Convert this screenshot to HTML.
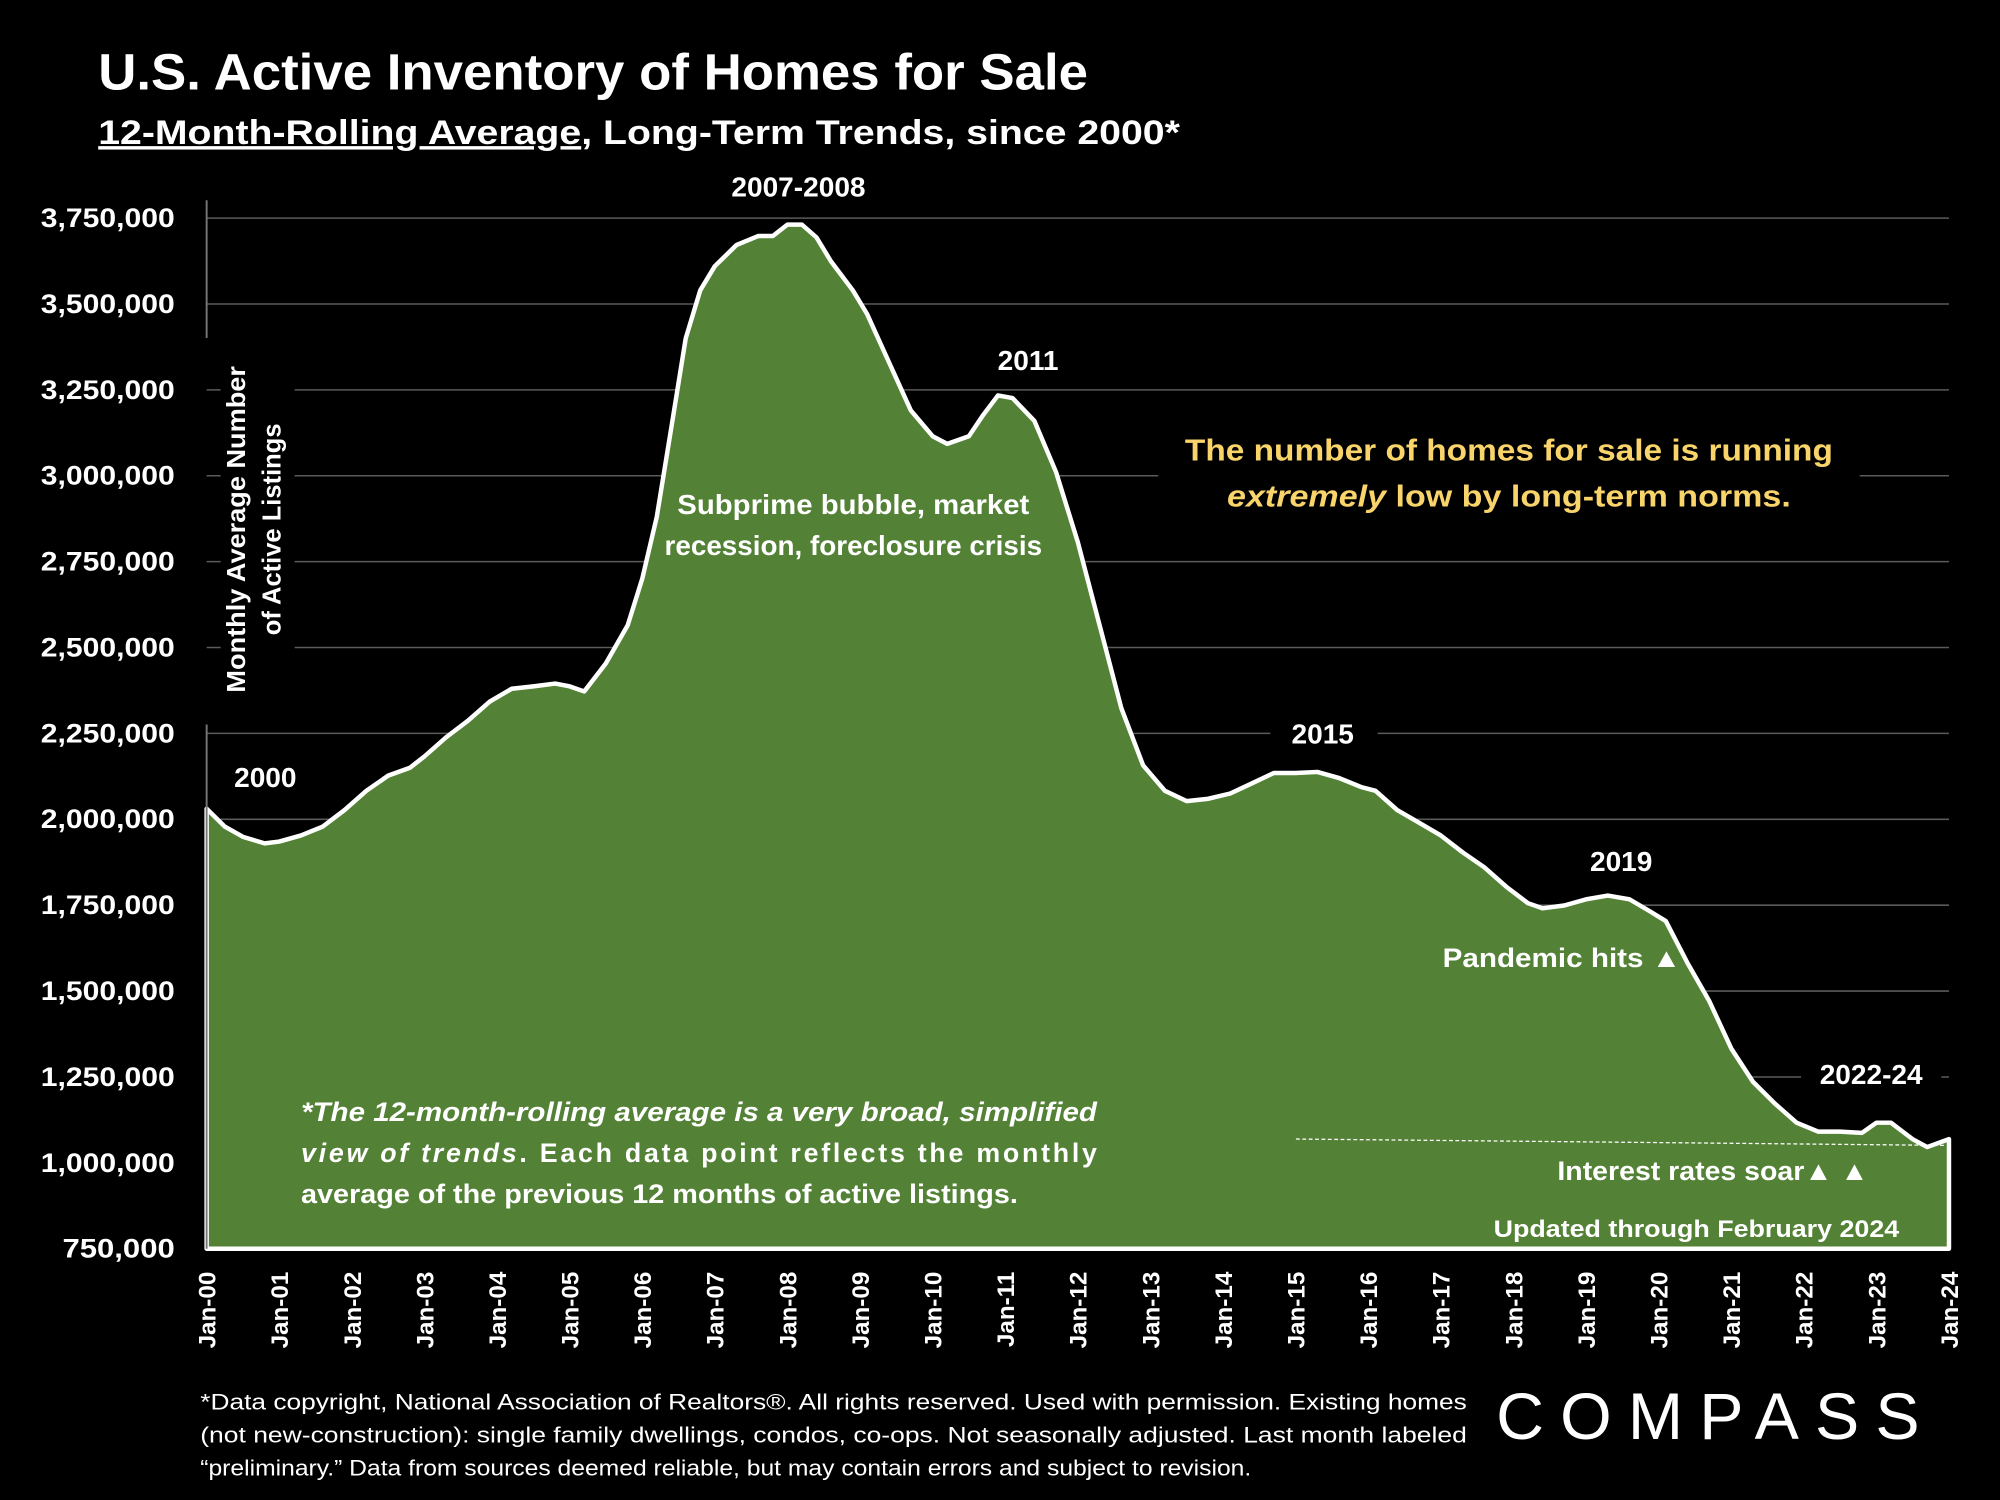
<!DOCTYPE html>
<html><head><meta charset="utf-8"><style>
html,body{margin:0;padding:0;background:#000;}
svg{display:block;}
text{font-family:"Liberation Sans",sans-serif;fill:#fff;font-weight:bold;}
</style></head><body>
<svg id="chart" width="2000" height="1500" viewBox="0 0 1568 1176" xmlns="http://www.w3.org/2000/svg">
<rect width="1568" height="1176" fill="#000"/>
<text x="77" y="70" font-size="40" textLength="776" lengthAdjust="spacingAndGlyphs">U.S. Active Inventory of Homes for Sale</text>
<text x="77" y="113" font-size="27" textLength="848" lengthAdjust="spacingAndGlyphs"><tspan text-decoration="underline">12-Month-Rolling Average</tspan>, Long-Term Trends, since 2000*</text>
<g id="grid"></g>
<g id="yticks"></g>
<g id="area"></g>
<line x1="162" y1="157" x2="162" y2="265" stroke="#777" stroke-width="1.5"/>
<line x1="162" y1="568" x2="162" y2="979" stroke="#777" stroke-width="1.5"/>
<g id="xticks"></g>
<line x1="1016" y1="893" x2="1526" y2="898" stroke="#fff" stroke-width="1" stroke-dasharray="3,2"/>
<g transform="translate(199,415) rotate(-90)">
<rect x="-135" y="-26" width="270" height="58" fill="#000"/>
<text x="0" y="-7" font-size="20" text-anchor="middle" textLength="256" lengthAdjust="spacingAndGlyphs">Monthly Average Number</text>
<text x="0" y="21" font-size="20" text-anchor="middle" textLength="166" lengthAdjust="spacingAndGlyphs">of Active  Listings</text>
</g>
<g>
<rect x="560" y="130" width="132" height="26" fill="#000"/>
<text x="626" y="154" font-size="22" text-anchor="middle">2007-2008</text>
<rect x="772" y="268" width="68" height="26" fill="#000"/>
<text x="806" y="290" font-size="22" text-anchor="middle">2011</text>
<rect x="996" y="560" width="84" height="26" fill="#000"/>
<text x="1037" y="583" font-size="22" text-anchor="middle">2015</text>
<rect x="1232" y="660" width="80" height="26" fill="#000"/>
<text x="1271" y="683" font-size="22" text-anchor="middle">2019</text>
<rect x="1412" y="828" width="110" height="26" fill="#000"/>
<text x="1467" y="850" font-size="22" text-anchor="middle">2022-24</text>
<text x="208" y="617" font-size="22" text-anchor="middle">2000</text>
<text x="669" y="403" font-size="22" text-anchor="middle" textLength="276" lengthAdjust="spacingAndGlyphs">Subprime bubble, market</text>
<text x="669" y="435" font-size="22" text-anchor="middle" textLength="296" lengthAdjust="spacingAndGlyphs">recession, foreclosure crisis</text>
<rect x="908" y="335" width="550" height="72" fill="#000"/>
<text x="1183" y="361" font-size="24" text-anchor="middle" textLength="508" lengthAdjust="spacingAndGlyphs" style="fill:#f8d46a">The number of homes for sale is running</text>
<text x="1183" y="397" font-size="24" text-anchor="middle" textLength="442" lengthAdjust="spacingAndGlyphs" style="fill:#f8d46a"><tspan font-style="italic">extremely</tspan> low by long-term norms.</text>
<text x="1131" y="758" font-size="21" textLength="187" lengthAdjust="spacingAndGlyphs">Pandemic  hits ▲</text>
<text x="1221" y="925" font-size="21" textLength="244" lengthAdjust="spacingAndGlyphs">Interest rates soar▲ ▲</text>
<text x="1330" y="970" font-size="19" text-anchor="middle" textLength="318" lengthAdjust="spacingAndGlyphs">Updated through February 2024</text>
<g font-size="21">
<text x="236" y="879" textLength="624" lengthAdjust="spacingAndGlyphs" font-style="italic">*The 12-month-rolling average is a very broad, simplified</text>
<text x="236" y="911" textLength="624" lengthAdjust="spacing"><tspan font-style="italic">view  of  trends</tspan>.  Each  data  point  reflects  the  monthly</text>
<text x="236" y="943" textLength="562" lengthAdjust="spacingAndGlyphs">average of the previous 12 months of active listings.</text>
</g>
</g>
<g font-size="17.5">
<text x="157" y="1105" textLength="993" lengthAdjust="spacingAndGlyphs" style="font-weight:normal">*Data copyright, National Association of Realtors®. All rights reserved. Used with permission. Existing homes</text>
<text x="157" y="1131" textLength="993" lengthAdjust="spacingAndGlyphs" style="font-weight:normal">(not new-construction): single family dwellings, condos, co-ops. Not seasonally adjusted. Last month labeled</text>
<text x="157" y="1157" textLength="824" lengthAdjust="spacingAndGlyphs" style="font-weight:normal">“preliminary.” Data from sources deemed reliable, but may contain errors and subject to revision.</text>
</g>
<text x="1173" y="1128" font-size="52" textLength="332" lengthAdjust="spacing" style="font-weight:normal">COMPASS</text>
</svg>
<script>
const yTicks = [750000,1000000,1250000,1500000,1750000,2000000,2250000,2500000,2750000,3000000,3250000,3500000,3750000];
const xTickLabels = ["Jan-00","Jan-01","Jan-02","Jan-03","Jan-04","Jan-05","Jan-06","Jan-07","Jan-08","Jan-09","Jan-10","Jan-11","Jan-12","Jan-13","Jan-14","Jan-15","Jan-16","Jan-17","Jan-18","Jan-19","Jan-20","Jan-21","Jan-22","Jan-23","Jan-24"];
const dates = [2000.0,2000.25,2000.5,2000.8,2001.0,2001.3,2001.6,2001.9,2002.2,2002.5,2002.8,2003.0,2003.3,2003.6,2003.9,2004.2,2004.5,2004.8,2005.0,2005.2,2005.5,2005.8,2006.0,2006.2,2006.4,2006.6,2006.8,2007.0,2007.3,2007.6,2007.8,2008.0,2008.2,2008.4,2008.6,2008.9,2009.1,2009.4,2009.7,2010.0,2010.2,2010.5,2010.7,2010.9,2011.1,2011.4,2011.7,2012.0,2012.3,2012.6,2012.9,2013.2,2013.5,2013.8,2014.1,2014.4,2014.7,2015.0,2015.3,2015.6,2015.9,2016.1,2016.4,2016.7,2017.0,2017.3,2017.6,2017.9,2018.2,2018.4,2018.7,2019.0,2019.3,2019.6,2019.9,2020.1,2020.4,2020.7,2021.0,2021.3,2021.6,2021.9,2022.2,2022.5,2022.8,2023.0,2023.2,2023.5,2023.7,2024.0];
const listings = [2031000,1979000,1949000,1930000,1935000,1953000,1979000,2027000,2083000,2127000,2150000,2183000,2239000,2287000,2343000,2380000,2387000,2395000,2387000,2372000,2454000,2565000,2700000,2880000,3140000,3400000,3540000,3610000,3672000,3698000,3698000,3731000,3731000,3694000,3624000,3540000,3470000,3330000,3190000,3115000,3093000,3115000,3178000,3234000,3226000,3160000,3011000,2807000,2565000,2324000,2157000,2083000,2053000,2060000,2075000,2105000,2135000,2135000,2138000,2120000,2094000,2083000,2027000,1990000,1953000,1904000,1860000,1804000,1756000,1741000,1749000,1767000,1778000,1767000,1730000,1704000,1581000,1470000,1333000,1236000,1173000,1117000,1091000,1091000,1087000,1117000,1117000,1069000,1046000,1069000];
const NS='http://www.w3.org/2000/svg';
const X0=162,X1=1528,Y0=979,Y1=171,YMIN=750000,YMAX=3750000,T0=2000,T1=2024;
function xs(t){return X0+(t-T0)/(T1-T0)*(X1-X0);}
function ys(v){return Y0-(v-YMIN)/(YMAX-YMIN)*(Y0-Y1);}
const grid=document.getElementById('grid'), yt=document.getElementById('yticks'), xt=document.getElementById('xticks'), area=document.getElementById('area');
yTicks.forEach(v=>{
  const l=document.createElementNS(NS,'line');
  l.setAttribute('x1',X0);l.setAttribute('x2',X1);l.setAttribute('y1',ys(v));l.setAttribute('y2',ys(v));
  l.setAttribute('stroke','#5a5a5a');l.setAttribute('stroke-width','1.2');
  
  
  grid.appendChild(l);
  const t=document.createElementNS(NS,'text');
  t.setAttribute('x',137);t.setAttribute('y',ys(v)+7);t.setAttribute('font-size','21');t.setAttribute('text-anchor','end');
  t.setAttribute('textLength', v>=1000000?'105':'88');t.setAttribute('lengthAdjust','spacingAndGlyphs');
  t.textContent=v.toLocaleString('en-US');
  
  
  yt.appendChild(t);
});
xTickLabels.forEach((s,i)=>{
  const x=xs(T0+i);
  const t=document.createElementNS(NS,'text');
  t.setAttribute('transform','translate('+(x+7)+',997) rotate(-90)');
  t.setAttribute('font-size','19');t.setAttribute('text-anchor','end');
  t.textContent=s;
  
  
  xt.appendChild(t);
});
let d='M'+xs(dates[0])+','+Y0;
dates.forEach((t,i)=>{d+=' L'+xs(t).toFixed(1)+','+ys(listings[i]).toFixed(1);});
d+=' L'+xs(dates[dates.length-1]).toFixed(1)+','+Y0+' Z';
const p=document.createElementNS(NS,'path');
p.setAttribute('d',d);p.setAttribute('fill','#538135');p.setAttribute('stroke','#fff');p.setAttribute('stroke-width','3.5');p.setAttribute('stroke-linejoin','round');


area.appendChild(p);
</script>
</body></html>
